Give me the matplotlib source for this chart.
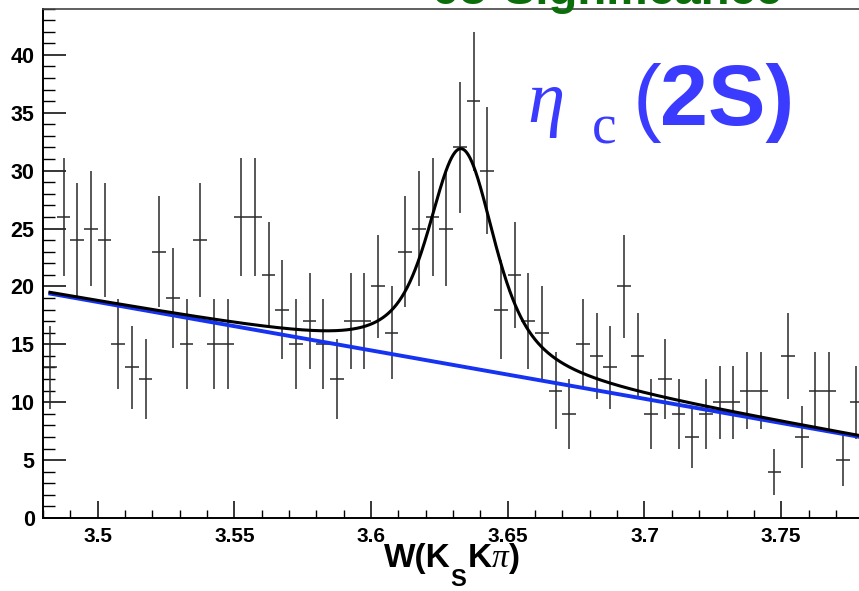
import numpy as np
import matplotlib
matplotlib.use("Agg")
import matplotlib.pyplot as plt
from matplotlib.ticker import MultipleLocator, FixedLocator, FuncFormatter

# ---- data: histogram of W(KsK pi), bin width 0.005 GeV ----
bin_lo = 3.48
bin_width = 0.005
counts = [13, 26, 24, 25, 24, 15, 13, 12, 23, 19,
          15, 24, 15, 15, 26, 26, 21, 18, 15, 17,
          15, 12, 17, 17, 20, 16, 23, 25, 26, 25,
          32, 36, 30, 18, 21, 17, 16, 11, 9, 15,
          14, 13, 20, 14, 9, 12, 9, 7, 9, 10,
          10, 11, 11, 4, 14, 7, 11, 11, 5, 10]

# ---- fit parameters ----
fit_x_range = (3.482, 3.78)
bg_at_left = 19.49      # background at x = 3.48
bg_at_right = 6.95      # background at x = 3.78
peak_mass = 3.6331
peak_height = 18.8      # signal height above background at the peak
lorentz_hwhm = 0.010
gauss_sigma = 0.0067

x_ticks_major = [3.5, 3.55, 3.6, 3.65, 3.7, 3.75]
y_ticks_major = [0, 5, 10, 15, 20, 25, 30, 35, 40]

# ---- figure ----
W, H = 859, 591
fig = plt.figure(figsize=(W / 100, H / 100), dpi=100)
ax_left, ax_right, ax_top, ax_bottom = 43, 863.2, 8.5, 518
ax = fig.add_axes([ax_left / W, 1 - ax_bottom / H,
                   (ax_right - ax_left) / W, (ax_bottom - ax_top) / H])
ax.set_xlim(3.48, 3.78)
ax.set_ylim(0, 44)

counts_arr = np.array(counts, dtype=float)
centers = bin_lo + bin_width * (np.arange(len(counts)) + 0.5)
ax.errorbar(centers, counts_arr, yerr=np.sqrt(counts_arr), xerr=bin_width / 2,
            fmt='none', ecolor='#2a2a2a', elinewidth=1.1, capsize=0, zorder=2)

# fit curves
xf = np.linspace(fit_x_range[0], fit_x_range[1], 1500)
bg = bg_at_left + (bg_at_right - bg_at_left) * (xf - 3.48) / (3.78 - 3.48)
t = np.linspace(-5 * gauss_sigma, 5 * gauss_sigma, 501)
gw = np.exp(-0.5 * (t / gauss_sigma) ** 2)

def voigt_shape(x):
    d = x[:, None] - peak_mass - t[None, :]
    return (gw[None, :] / (1 + (d / lorentz_hwhm) ** 2)).sum(axis=1)

norm = voigt_shape(np.array([peak_mass]))[0]
sig = peak_height * voigt_shape(xf) / norm
ax.plot(xf, bg, color='#1533f0', lw=2.8, zorder=3, solid_capstyle='butt')
ax.plot(xf, bg + sig, color='black', lw=2.2, zorder=4, solid_capstyle='butt')

# axes styling (ROOT-like)
for s in ['left', 'bottom']:
    ax.spines[s].set_linewidth(1.4)
ax.spines['top'].set_linewidth(1.2)
ax.spines['top'].set_color('#444444')
ax.spines['right'].set_visible(False)

ax.xaxis.set_major_locator(FixedLocator(x_ticks_major))
ax.xaxis.set_minor_locator(MultipleLocator(0.01))
ax.yaxis.set_major_locator(FixedLocator(y_ticks_major))
ax.yaxis.set_minor_locator(MultipleLocator(1))
ax.xaxis.set_major_formatter(FuncFormatter(lambda v, p: ('%g' % round(v, 3))))
ax.yaxis.set_major_formatter(FuncFormatter(lambda v, p: '%d' % v))
ax.tick_params(axis='x', which='major', direction='in', length=12.5, width=1.1,
               pad=6.5, labelsize=15, top=False)
ax.tick_params(axis='x', which='minor', direction='in', length=6, width=1.0, top=False)
ax.tick_params(axis='y', which='major', direction='in', length=16.5, width=1.1,
               pad=6, labelsize=15.5, right=False)
ax.tick_params(axis='y', which='minor', direction='in', length=8.5, width=1.0, right=False)
for lab in ax.get_xticklabels() + ax.get_yticklabels():
    lab.set_fontfamily('Liberation Sans')
    lab.set_fontweight('bold')

def px(x, y):
    return x / W, 1 - y / H

# x-axis title W(K_S K pi), built from pieces so the subscript sits low
fig.canvas.draw()
renderer = fig.canvas.get_renderer()
pieces = [('W(K', 24, 'Liberation Sans', 'bold', 'normal', 567),
          ('S', 17, 'Liberation Sans', 'bold', 'normal', 586),
          ('K', 24, 'Liberation Sans', 'bold', 'normal', 567),
          ('\u03c0', 24, 'Liberation Serif', 'normal', 'italic', 567),
          (')', 24, 'Liberation Sans', 'bold', 'normal', 567)]
xcur = 384
for txt, fs, fam, fw, fst, base in pieces:
    tt = fig.text(*px(xcur, base), txt, fontsize=fs, fontfamily=fam,
                  fontweight=fw, fontstyle=fst, color='black',
                  va='baseline', ha='left')
    bb = tt.get_window_extent(renderer)
    xcur = bb.x1 + (1 if txt == 'S' else 0)

blue_txt = '#3b3bff'
fig.text(*px(527, 122), '\u03b7', fontsize=54, fontfamily='Liberation Serif',
         fontstyle='italic', color=blue_txt, va='baseline', ha='left')
fig.text(*px(592, 143), 'c', fontsize=40, fontfamily='Liberation Serif',
         color=blue_txt, va='baseline', ha='left')
fig.text(*px(633, 125), '(', fontsize=62, fontfamily='Liberation Sans',
         color=blue_txt, va='baseline', ha='left')
fig.text(*px(660, 125), '2S)', fontsize=62, fontfamily='Liberation Sans',
         fontweight='bold', color=blue_txt, va='baseline', ha='left')

fig.text(*px(432, 4), '6\u03c3 Significance', fontsize=34,
         fontfamily='Liberation Sans', fontweight='bold', color='#0b6e0b',
         va='baseline', ha='left')

fig.savefig('out.png', dpi=100)
